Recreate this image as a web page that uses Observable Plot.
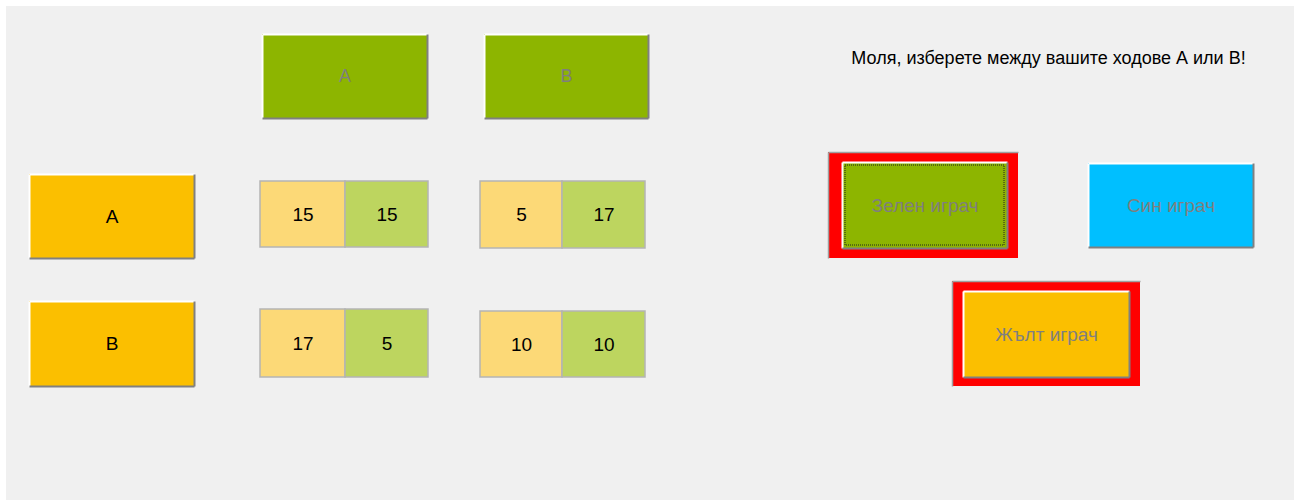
<!DOCTYPE html>
<html><head><meta charset="utf-8">
<script src="https://cdn.jsdelivr.net/npm/d3@7"></script>
<script src="https://cdn.jsdelivr.net/npm/@observablehq/plot@0.6"></script>
<style>html,body{margin:0;padding:0;background:#fff;}</style>
</head><body><div id="chart"></div>
<script>
// ---- data ----
const moves = ["A", "B"];
const payoffYellow = [[15, 5], [17, 10]];   // rows: yellow move, cols: green move
const payoffGreen  = [[15, 17], [5, 10]];
const players = ["Зелен играч", "Син играч", "Жълт играч"];
const selected = [true, false, true];
const prompt = "Моля, изберете между вашите ходове А или В!";

// ---- layout ----
const W = 1298, H = 502;
const colHead = [{x1: 262, x2: 427}, {x1: 484, x2: 648}];
const headY = {y1: 34, y2: 118};
const rowHead = [{y1: 174, y2: 258}, {y1: 301, y2: 386}];
const rowHeadX = {x1: 29, x2: 194};
const cellCols = [{x1: 260, xm: 345, x2: 428}, {x1: 480, xm: 562, x2: 645}];
const cellRows = [[{y1: 181, y2: 247}, {y1: 181, y2: 248}], [{y1: 309, y2: 377}, {y1: 311, y2: 377}]];
const playerBtns = [
  {x1: 842, x2: 1007, y1: 162, y2: 248, fx1: 828, fx2: 1018, fy1: 152, fy2: 258, fill: "#8db500"},
  {x1: 1088, x2: 1253, y1: 163, y2: 247, fill: "#00bfff"},
  {x1: 963, x2: 1129, y1: 291, y2: 377, fx1: 952, fx2: 1140, fy1: 281, fy2: 386, fill: "#fbbf00"}
];

const buttons = [];
colHead.forEach((c, i) => buttons.push({...c, ...headY, fill: "#8db500", label: moves[i], color: "#7f7f7f", fs: 18}));
rowHead.forEach((r, i) => buttons.push({...rowHeadX, ...r, fill: "#fbbf00", label: moves[i], color: "#000", fs: 19}));
players.forEach((p, i) => buttons.push({...playerBtns[i], label: p, color: "#7f7f7f", fs: 19}));

const frames = players.map((p, i) => ({...playerBtns[i], sel: selected[i]})).filter(d => d.sel);

const cells = [];
payoffYellow.forEach((row, r) => row.forEach((v, c) => {
  const cc = cellCols[c], rr = cellRows[r][c];
  cells.push({x1: cc.x1, x2: cc.xm, y1: rr.y1, y2: rr.y2, fill: "#fcd977", v});
  cells.push({x1: cc.xm, x2: cc.x2, y1: rr.y1, y2: rr.y2, fill: "#bdd55f", v: payoffGreen[r][c]});
}));

const bevelLight = [], bevelDark = [];
buttons.forEach(b => {
  bevelLight.push({x1: b.x1, y1: b.y1, x2: b.x2, y2: b.y1});
  bevelLight.push({x1: b.x1, y1: b.y1, x2: b.x1, y2: b.y2});
  bevelDark.push({x1: b.x1, y1: b.y2, x2: b.x2, y2: b.y2});
  bevelDark.push({x1: b.x2, y1: b.y1, x2: b.x2, y2: b.y2});
});
const frameEdges = [];
frames.forEach(f => {
  frameEdges.push({x1: f.fx1, y1: f.fy1, x2: f.fx2, y2: f.fy1});
  frameEdges.push({x1: f.fx1, y1: f.fy1, x2: f.fx1, y2: f.fy2});
});

const font = "Arial, 'Liberation Sans', sans-serif";

const chart = Plot.plot({
  width: W, height: H,
  margin: 0,
  x: {domain: [0, W], axis: null},
  y: {domain: [0, H], axis: null, reverse: true},
  style: {background: "#fff"},
  marks: [
    Plot.rect([{x1: 6, x2: 1294, y1: 6, y2: 500}], {x1: "x1", x2: "x2", y1: "y1", y2: "y2", fill: "#f0f0f0"}),
    Plot.rect(frames, {x1: "fx1", x2: "fx2", y1: "fy1", y2: "fy2", fill: "#ff0000"}),
    Plot.link(frameEdges, {x1: "x1", y1: "y1", x2: "x2", y2: "y2", stroke: "#a0a0a0", strokeWidth: 1.5}),
    Plot.rect(buttons, {x1: "x1", x2: "x2", y1: "y1", y2: "y2", fill: "fill"}),
    Plot.link(bevelLight, {x1: "x1", y1: "y1", x2: "x2", y2: "y2", stroke: "#ffffff", strokeWidth: 2}),
    Plot.link(bevelDark, {x1: "x1", y1: "y1", x2: "x2", y2: "y2", stroke: "#808080", strokeWidth: 2}),
    Plot.rect([playerBtns[0]], {x1: d => d.x1 + 3, x2: d => d.x2 - 3, y1: d => d.y1 + 3, y2: d => d.y2 - 3, fill: "none", stroke: "#222", strokeWidth: 1, strokeDasharray: "1,1"}),
    Plot.rect(cells, {x1: "x1", x2: "x2", y1: "y1", y2: "y2", fill: "fill", stroke: "#b4b4b4", strokeWidth: 1.5}),
    Plot.text(cells, {x: d => (d.x1 + d.x2) / 2, y: d => (d.y1 + d.y2) / 2, text: "v", fontSize: 19, fill: "#000", fontFamily: font}),
    Plot.text(buttons.filter(b => b.fs === 18), {x: d => (d.x1 + d.x2) / 2, y: d => (d.y1 + d.y2) / 2, text: "label", fontSize: 18, fill: "color", fontFamily: font}),
    Plot.text(buttons.filter(b => b.fs === 19), {x: d => (d.x1 + d.x2) / 2, y: d => (d.y1 + d.y2) / 2, text: "label", fontSize: 19, fill: "color", fontFamily: font}),
    Plot.text([prompt], {x: 1048, y: 58, text: d => d, fontSize: 18, fill: "#000", fontFamily: font})
  ]
});
document.getElementById("chart").appendChild(chart);
</script>
</body></html>
